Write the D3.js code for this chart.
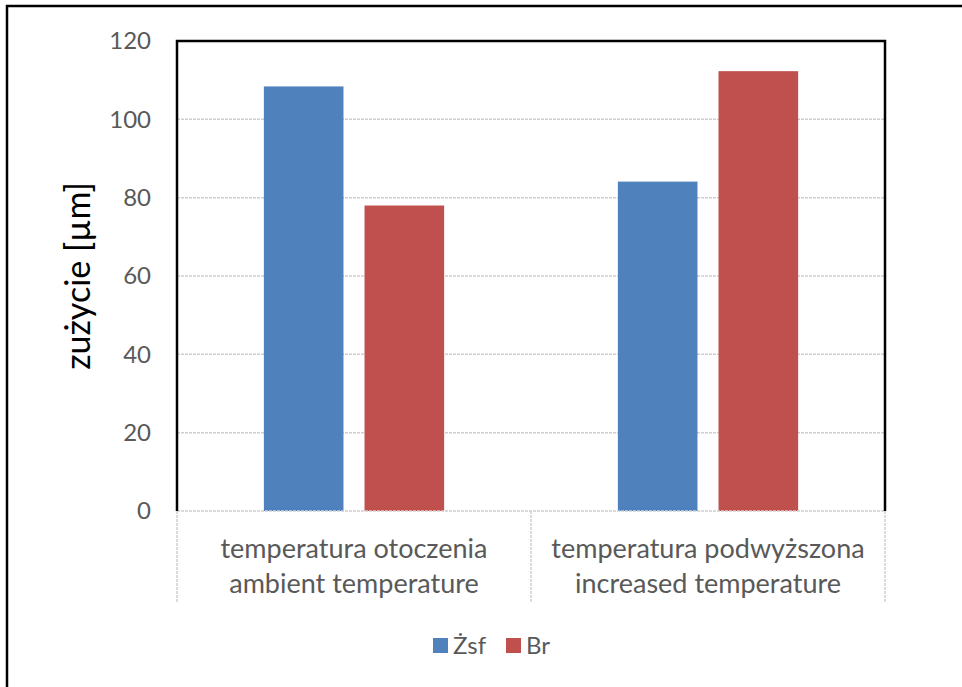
<!DOCTYPE html>
<html>
<head>
<meta charset="utf-8">
<script src="https://cdn.jsdelivr.net/npm/d3@7"></script>
<style>
  html, body { margin: 0; padding: 0; background: #fff; }
  svg { display: block; font-family: Lato, 'Open Sans', sans-serif; }
</style>
</head>
<body>
<svg id="chart" width="962" height="687"></svg>
<script>
// data
const categories = ['ambient', 'increased'];
const categoryLabels = [
  ['temperatura otoczenia', 'ambient temperature'],
  ['temperatura podwyższona', 'increased temperature']
];
const seriesNames = ['Żsf', 'Br'];
const seriesColors = ['#4F81BD', '#C0504D'];
const zsfValues = [108.4, 84.1];
const brValues = [78.0, 112.3];
const yTicks = [0, 20, 40, 60, 80, 100, 120];

const width = 962;
const height = 687;
const margin = { top: 41, right: 77, bottom: 176, left: 177 };
const plotW = width - margin.left - margin.right;
const plotH = height - margin.top - margin.bottom;

const svg = d3.select('#chart');

// outer frame (only top and left edges are visible in the picture)
svg.append('path')
  .attr('d', `M7,${height + 5} L7,6 L${width + 5},6`)
  .attr('fill', 'none')
  .attr('stroke', '#000')
  .attr('stroke-width', 2.5);

const g = svg.append('g')
  .attr('transform', `translate(${margin.left},${margin.top})`);

const y = d3.scaleLinear().domain([0, 120]).range([plotH, 0]);
const x0 = d3.scaleBand().domain(categories).range([0, plotW]).padding(0);
const x1 = d3.scaleBand().domain(seriesNames)
  .range([0, x0.bandwidth()])
  .paddingInner(0.209)
  .paddingOuter(0.863);

const gridColor = '#cfcfcf';

// gridlines
g.append('g')
  .selectAll('line')
  .data(yTicks.filter(d => d > 0 && d < 120))
  .join('line')
  .attr('x1', 0)
  .attr('x2', plotW)
  .attr('y1', d => y(d))
  .attr('y2', d => y(d))
  .attr('stroke', gridColor)
  .attr('stroke-width', 1.5)
  .attr('stroke-dasharray', '3,1');

// y axis labels
const yAxis = d3.axisLeft(y).tickValues(yTicks).tickSize(0).tickPadding(26);
g.append('g')
  .call(yAxis)
  .call(a => a.select('.domain').remove())
  .selectAll('text')
  .attr('fill', '#595959')
  .style('font-size', '24px')
  .style('font-family', 'Lato, sans-serif');

// bars
const seriesValues = [zsfValues, brValues];
const barData = [];
categories.forEach((c, i) => {
  seriesNames.forEach((s, j) => {
    barData.push({ cat: c, series: s, value: seriesValues[j][i], color: seriesColors[j] });
  });
});

g.append('g')
  .selectAll('rect')
  .data(barData)
  .join('rect')
  .attr('x', d => x0(d.cat) + x1(d.series))
  .attr('y', d => y(d.value))
  .attr('width', x1.bandwidth())
  .attr('height', d => plotH - y(d.value))
  .attr('fill', d => d.color);

// category axis: base line and dividers
g.append('line')
  .attr('x1', 0).attr('x2', plotW)
  .attr('y1', plotH).attr('y2', plotH)
  .attr('stroke', gridColor)
  .attr('stroke-width', 1.5)
  .attr('stroke-dasharray', '3,1');

const dividers = categories.map(c => x0(c)).concat([plotW]);
g.append('g')
  .selectAll('line')
  .data(dividers)
  .join('line')
  .attr('x1', d => d).attr('x2', d => d)
  .attr('y1', plotH).attr('y2', plotH + 91)
  .attr('stroke', gridColor)
  .attr('stroke-width', 1.5)
  .attr('stroke-dasharray', '3,1');

// category labels
const catText = g.append('g')
  .selectAll('text')
  .data(categories)
  .join('text')
  .attr('x', d => x0(d) + x0.bandwidth() / 2)
  .attr('y', plotH + 47)
  .attr('text-anchor', 'middle')
  .attr('fill', '#595959')
  .style('font-size', '27px');

catText.selectAll('tspan')
  .data((d, i) => categoryLabels[i])
  .join('tspan')
  .attr('x', function () { return d3.select(this.parentNode).attr('x'); })
  .attr('dy', (d, i) => i === 0 ? 0 : 35)
  .text(d => d);

// plot frame (left, top, right)
g.append('path')
  .attr('d', `M0,${plotH} L0,0 L${plotW},0 L${plotW},${plotH}`)
  .attr('fill', 'none')
  .attr('stroke', '#000')
  .attr('stroke-width', 2.5);

// y axis title
svg.append('text')
  .attr('transform', `translate(90,${margin.top + plotH / 2}) rotate(-90)`)
  .attr('text-anchor', 'middle')
  .attr('fill', '#000')
  .style('font-size', '34px')
  .text('zużycie [µm]');

// legend
const legend = svg.append('g');
const legendItems = [
  { name: seriesNames[0], color: seriesColors[0], x: 433 },
  { name: seriesNames[1], color: seriesColors[1], x: 506 }
];
const li = legend.selectAll('g')
  .data(legendItems)
  .join('g')
  .attr('transform', d => `translate(${d.x},638)`);
li.append('rect')
  .attr('width', 15)
  .attr('height', 15)
  .attr('fill', d => d.color);
li.append('text')
  .attr('x', 20)
  .attr('y', 16)
  .attr('fill', '#595959')
  .style('font-size', '24px')
  .text(d => d.name);
</script>
</body>
</html>
